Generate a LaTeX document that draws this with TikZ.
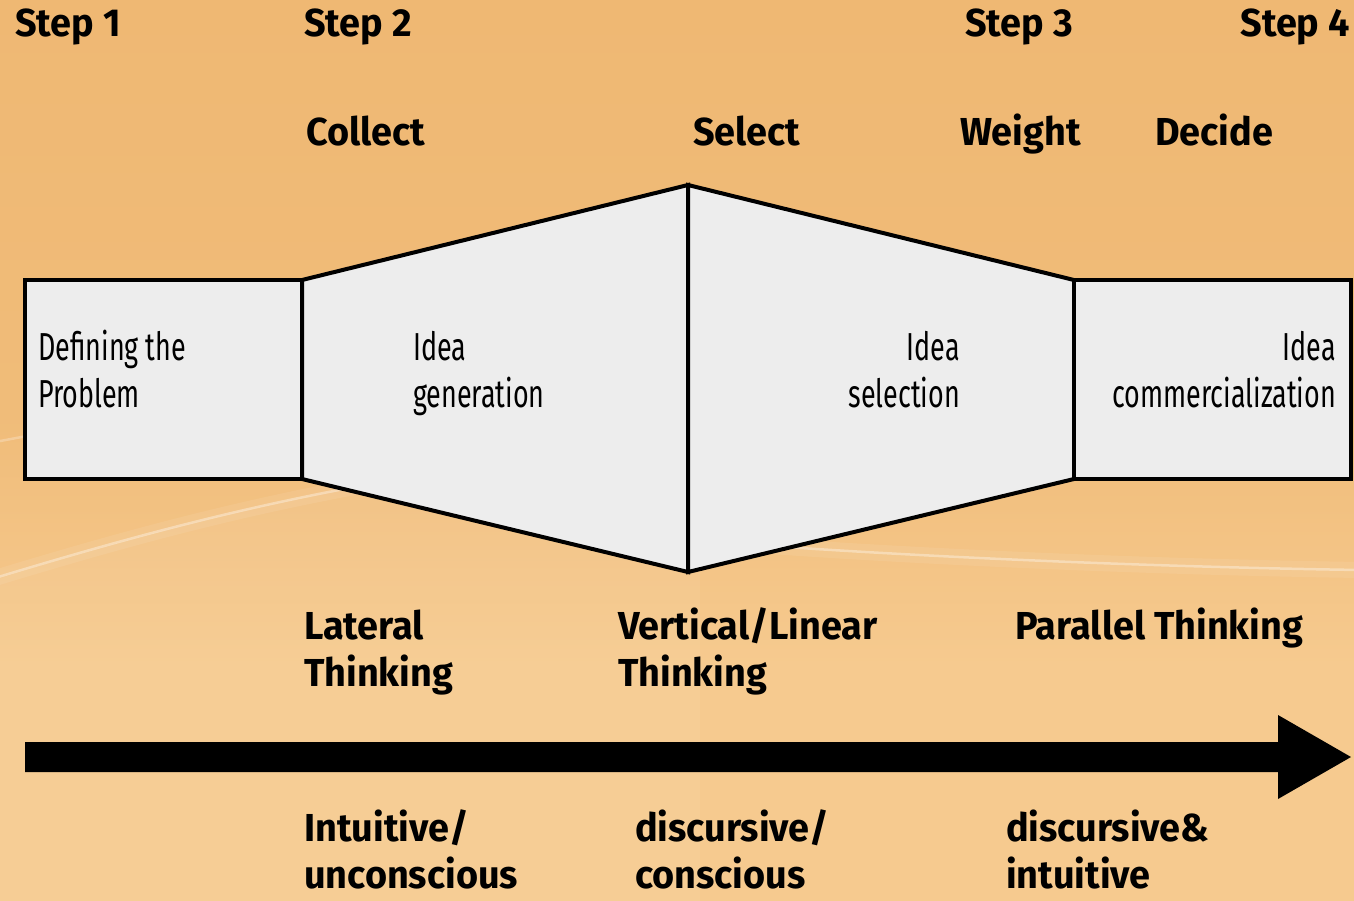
\documentclass[tikz,border=0pt]{standalone}
\usepackage{fontspec}
\setmainfont{Fira Sans}
\newfontfamily\narrowfont{Fira Sans}[FakeStretch=0.69]
\newfontfamily\labelfont{Fira Sans}[FakeStretch=0.97]

\definecolor{bgtop}{HTML}{EFB873}
\definecolor{bgmid}{HTML}{F0BC79}
\definecolor{bgbot}{HTML}{F6CA8F}
\definecolor{panel}{HTML}{EDEDED}

% warm backdrop, darker at the top and lighter towards the bottom
\pgfdeclareverticalshading{backdrop}{100bp}{%
  color(0bp)=(bgbot); color(38bp)=(bgbot); color(52bp)=(bgmid); color(75bp)=(bgtop); color(100bp)=(bgtop)}

\begin{document}
\begin{tikzpicture}[x=1pt,y=-1pt,
  panelshape/.style={draw=black,fill=panel,line width=4pt,line join=miter},
  headlabel/.style={font=\labelfont\bfseries\fontsize{39}{47}\selectfont,inner sep=0pt,anchor=base west,align=left},
  headlabelr/.style={headlabel,anchor=base east},
  footlabel/.style={headlabel,text depth=0pt},
  paneltext/.style={font=\narrowfont\fontsize{39}{47}\selectfont,inner sep=0pt,anchor=base west,align=left},
  paneltextr/.style={paneltext,anchor=base east,align=right},
  streak/.style={white,line cap=round,opacity=0.35,line width=2.5pt},
  glow/.style={white,line cap=round,opacity=0.08,line width=16pt},
]
\useasboundingbox (0,0) rectangle (1354,900);
\shade[shading=backdrop] (0,0) rectangle (1354,900);

% soft light streaks across the backdrop
\fill[white,opacity=0.06] (-5,580) .. controls (120,540) and (230,510) .. (360,486) -- (700,560) -- (700,905) -- (-5,905) -- cycle;
\draw[glow] (-5,578) .. controls (120,540) and (230,510) .. (360,486);
\draw[streak] (-5,578) .. controls (120,540) and (230,510) .. (360,486);
\draw[streak,opacity=0.25] (-5,442) -- (80,426);
\draw[glow] (690,540) .. controls (850,553) and (1100,566) .. (1360,570);
\draw[streak] (690,540) .. controls (850,553) and (1100,566) .. (1360,570);

% process panels
\draw[panelshape] (25,280) rectangle (302,479);
\draw[panelshape] (302,280) -- (688,185) -- (688,572) -- (302,479) -- cycle;
\draw[panelshape] (688,185) -- (1074,280) -- (1074,479) -- (688,572) -- cycle;
\draw[panelshape] (1074,280) rectangle (1351,479);

% panel captions (anchored at the baseline of their last line)
\node[paneltext]  (define) at (38,407)   {Defining the\\Problem};
\node[paneltext]  (gen)    at (413,407)  {Idea\\generation};
\node[paneltextr] (sel)    at (960,407)  {Idea\\selection};
\node[paneltextr] (comm)   at (1336,407) {Idea\\commercialization};

% step headings
\node[headlabel]  (step1) at (15,36)   {Step 1};
\node[headlabel]  (step2) at (304,36)  {Step 2};
\node[headlabel]  (step3) at (965,36)  {Step 3};
\node[headlabelr] (step4) at (1350,36) {Step 4};

\node[headlabel] (collect) at (306,145)  {Collect};
\node[headlabel] (select)  at (693,145)  {Select};
\node[headlabel] (weight)  at (960,145)  {Weight};
\node[headlabel] (decide)  at (1155,145) {Decide};

% thinking modes
\node[headlabel] (lateral)  at (304,686)  {Lateral\\Thinking};
\node[headlabel] (vertical) at (618,686)  {Vertical/Linear\\Thinking};
\node[headlabel] (parallel) at (1015,639) {Parallel Thinking};

% time arrow
\fill[black] (25,742) -- (1278,742) -- (1278,715) -- (1351,757) -- (1278,799) -- (1278,772) -- (25,772) -- cycle;

% modes of cognition
\node[footlabel] (intuitive) at (304,888)  {Intuitive/\\unconscious};
\node[footlabel] (discur)    at (635,888)  {discursive/\\conscious};
\node[footlabel] (both)      at (1006,888) {discursive\&\\intuitive};
\end{tikzpicture}
\end{document}
